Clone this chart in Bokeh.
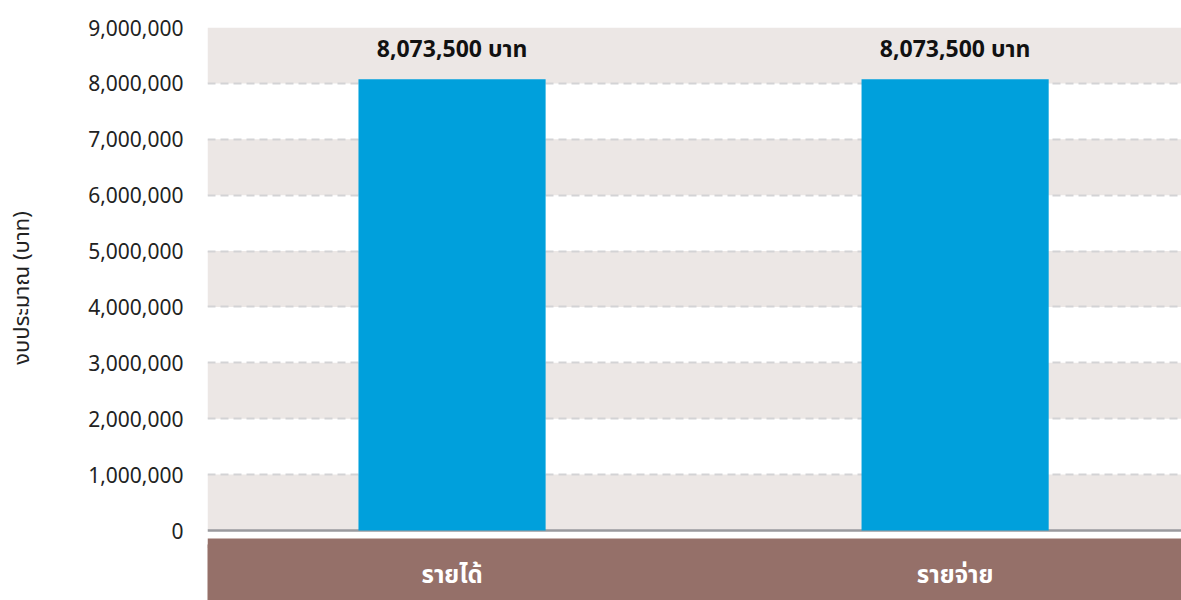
from bokeh.plotting import figure
from bokeh.layouts import column
from bokeh.models import (Range1d, FixedTicker, NumeralTickFormatter, BoxAnnotation,
                          Span, ColumnDataSource)
from bokeh.core.properties import value
from bokeh.embed import file_html
from bokeh.resources import INLINE

# ---- data ----
categories = ["รายได้", "รายจ่าย"]
budget = [8073500, 8073500]
bar_labels = ["8,073,500 บาท", "8,073,500 บาท"]
y_ticks = [0, 1000000, 2000000, 3000000, 4000000, 5000000, 6000000, 7000000, 8000000, 9000000]
y_title = "งบประมาณ (บาท)"

FONT = "Noto Sans Thai, Sarabun, Tahoma, Noto Sans, sans-serif"
BROWN = "#957069"

xs = [i + 0.5 for i in range(len(categories))]
src = ColumnDataSource(dict(x=xs, top=budget, lab=bar_labels, cat=categories,
                            cy=[25] * len(categories)))

xr = Range1d(0.0139, 1.950)

p = figure(width=1181, height=548, output_backend="svg", toolbar_location=None,
           x_range=xr, y_range=Range1d(-0.322e6, 9e6),
           min_border_left=207, min_border_right=0, min_border_top=27, min_border_bottom=0)
p.outline_line_color = None
p.border_fill_color = "white"
p.background_fill_color = "white"
p.xaxis.visible = False
p.xgrid.visible = False

# shaded bands
for lo in y_ticks[0:-1:2]:
    p.add_layout(BoxAnnotation(bottom=lo, top=lo + 1000000, fill_color="#ece7e5",
                               fill_alpha=1, line_color=None, level="image"))

# top of the brown category band
p.add_layout(BoxAnnotation(top=-0.143e6, fill_color=BROWN, fill_alpha=1,
                           line_color=None, level="image"))

# grid
p.ygrid.ticker = FixedTicker(ticks=y_ticks[1:])
p.ygrid.grid_line_color = "#d3d3d5"
p.ygrid.grid_line_width = 2
p.ygrid.grid_line_dash = "8 5"

# zero line
p.add_layout(Span(location=0, dimension="width", line_color="#9a9a9e",
                  line_width=2.5, level="underlay"))

p.vbar(x="x", top="top", width=0.372, bottom=0, source=src,
       fill_color="#00a0dc", line_color=None)

p.text(x="x", y="top", text="lab", source=src, text_align="center",
       text_baseline="bottom", y_offset=-12, text_font=value(FONT),
       text_font_size="23px", text_font_style="bold", text_color="#111111")

ax = p.yaxis[0]
ax.ticker = FixedTicker(ticks=y_ticks)
ax.formatter = NumeralTickFormatter(format="0,0")
ax.axis_line_color = None
ax.major_tick_line_color = None
ax.minor_tick_line_color = None
ax.major_tick_out = 0
ax.major_tick_in = 0
ax.major_label_standoff = 24
ax.major_label_text_font = FONT
ax.major_label_text_font_size = "21px"
ax.major_label_text_color = "#222222"
ax.axis_label = y_title
ax.axis_label_text_font = FONT
ax.axis_label_text_font_size = "22px"
ax.axis_label_text_font_style = "normal"
ax.axis_label_text_color = "#222222"
ax.axis_label_standoff = 46

# category band (rest, below the plot); overlaps the main figure slightly to hide the seam
p2 = figure(width=1181, height=56, output_backend="svg", toolbar_location=None,
            x_range=xr, y_range=Range1d(0, 56),
            min_border_left=207, min_border_right=0, min_border_top=0, min_border_bottom=0)
p2.margin = (-4, 0, 0, 0)
p2.outline_line_color = None
p2.border_fill_color = "white"
p2.background_fill_color = BROWN
p2.xaxis.visible = False
p2.yaxis.visible = False
p2.grid.visible = False
p2.text(x="x", y="cy", text="cat", source=src, text_align="center",
        text_baseline="middle", text_font=value(FONT),
        text_font_size="24px", text_font_style="bold", text_color="white")

layout = column(p, p2, spacing=0)
open("out.html", "w").write(file_html(layout, INLINE))
